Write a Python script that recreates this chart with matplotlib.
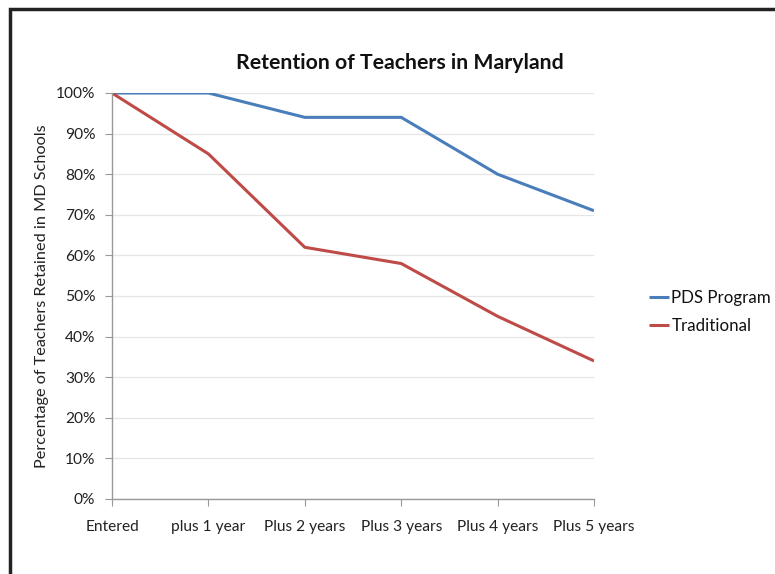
import matplotlib
matplotlib.use("Agg")
import matplotlib.pyplot as plt
from matplotlib.patches import Rectangle

categories = ["Entered", "plus 1 year", "Plus 2 years", "Plus 3 years", "Plus 4 years", "Plus 5 years"]
pds = [100, 100, 94, 94, 80, 71]
traditional = [100, 85, 62, 58, 45, 34]
yticks = [0, 10, 20, 30, 40, 50, 60, 70, 80, 90, 100]
ytick_labels = [f"{v}%" for v in yticks]

plt.rcParams['font.family'] = ['Lato', 'DejaVu Sans']

W, H = 775, 574
fig = plt.figure(figsize=(W / 100, H / 100), dpi=100)
fig.patch.set_facecolor("white")

# outer frame
fig.patches.append(Rectangle((9.5 / W, -0.1), 2.0, 1.1 - 9.5 / H, transform=fig.transFigure,
                             fill=False, edgecolor="#222222", linewidth=2.5))

ax = fig.add_axes([112 / W, 1 - 499 / H, (594 - 112) / W, (499 - 93) / H])
x = list(range(len(categories)))
ax.plot(x, pds, color="#4a7ebb", linewidth=2.2, label="PDS Program", solid_capstyle="butt")
ax.plot(x, traditional, color="#be4b48", linewidth=2.2, label="Traditional", solid_capstyle="butt")

ax.set_xlim(0, len(categories) - 1)
ax.set_ylim(0, 100)
ax.set_yticks(yticks)
ax.set_yticklabels(ytick_labels, fontsize=11.2, color="#222222")
ax.set_xticks(x)
ax.set_xticklabels(categories, fontsize=11.2, color="#222222")
ax.tick_params(axis="y", length=5, color="#999999", pad=7)
ax.tick_params(axis="x", length=5, color="#999999", pad=10)
ax.grid(axis="y", color="#e6e6e6", linewidth=0.9)
ax.set_axisbelow(True)
for s in ["top", "right"]:
    ax.spines[s].set_visible(False)
for s in ["left", "bottom"]:
    ax.spines[s].set_color("#999999")
    ax.spines[s].set_linewidth(1)

ax.set_ylabel("Percentage of Teachers Retained in MD Schools", fontsize=11.7, color="#222222", labelpad=5)
fig.text(400 / W, 1 - 63 / H, "Retention of Teachers in Maryland", ha="center", va="center",
         fontsize=15.3, fontweight="bold", color="#111111")

leg = ax.legend(loc="center left", bbox_to_anchor=(649 / W, 1 - 312 / H), bbox_transform=fig.transFigure,
                frameon=False, fontsize=12.2, handlelength=1.2, handletextpad=0.12, labelspacing=0.75,
                borderaxespad=0, borderpad=0)
for t in leg.get_texts():
    t.set_color("#111111")

fig.savefig("out.png", dpi=100)
